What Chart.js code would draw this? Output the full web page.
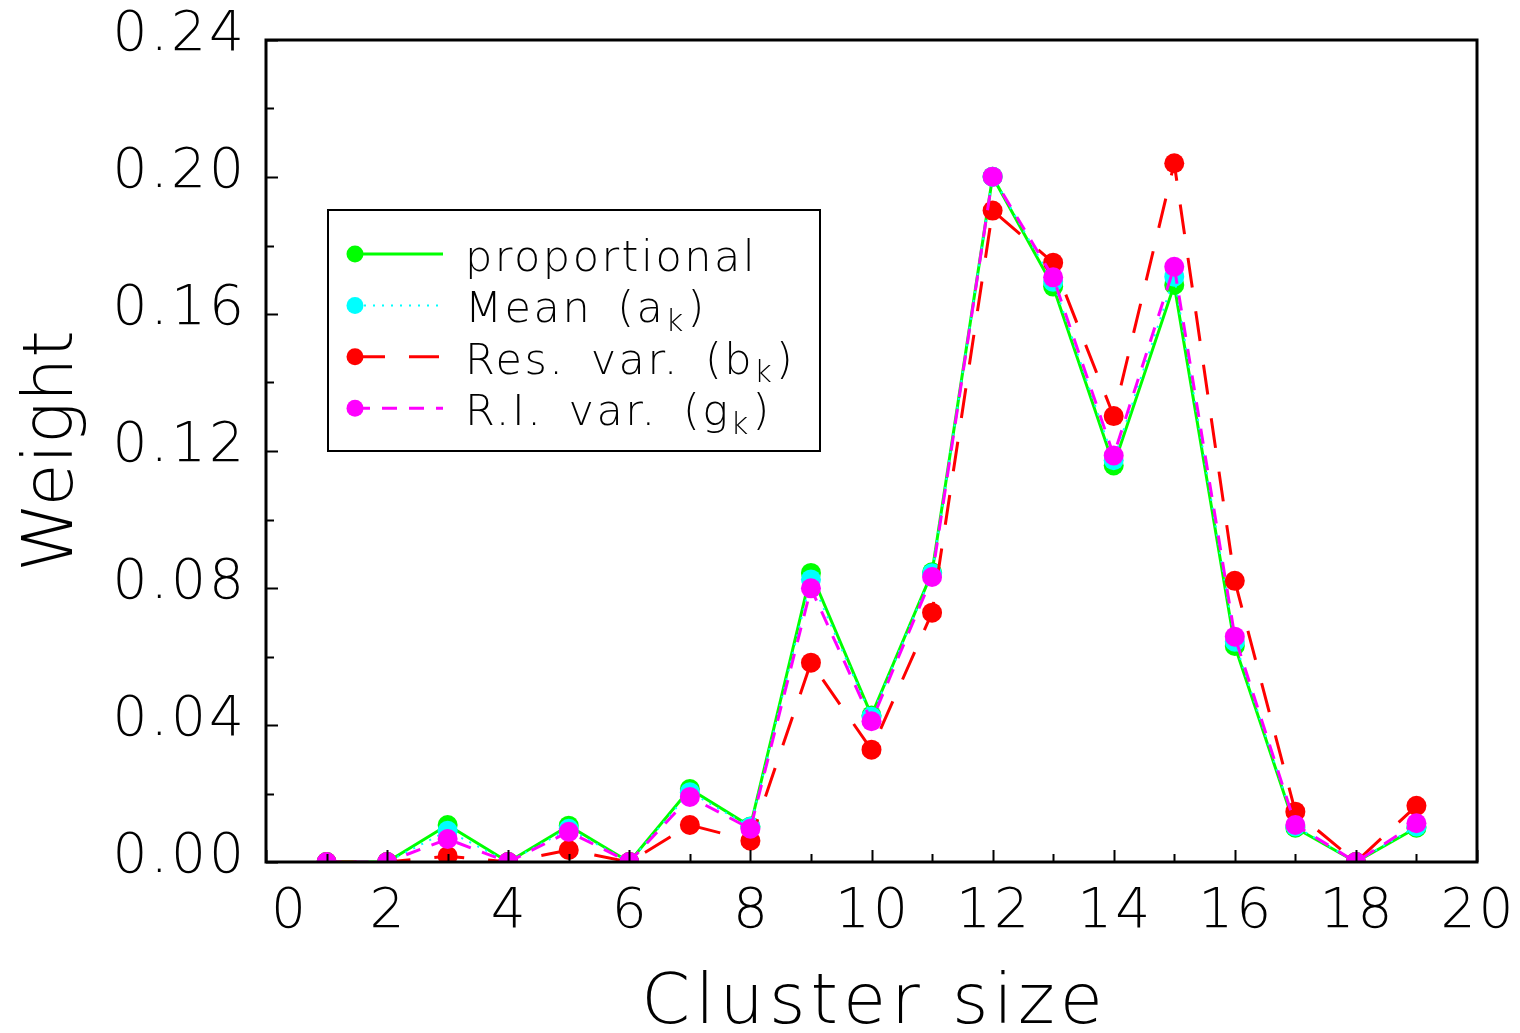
<!DOCTYPE html>
<html><head><meta charset="utf-8">
<script src="https://cdn.jsdelivr.net/npm/chart.js@4/dist/chart.umd.min.js"></script>
<style>html,body{margin:0;padding:0;background:#fff;overflow:hidden}canvas{display:block}</style>
</head><body>
<canvas id="c" width="1520" height="1033"></canvas>
<script>
// ---- data ----
const clusterSizes = [1,2,3,4,5,6,7,8,9,10,11,12,13,14,15,16,17,18,19];
const proportional = [0,0,0.0108,0,0.0106,0,0.0213,0.0104,0.0844,0.0428,0.0846,0.2001,0.1680,0.1158,0.1685,0.0631,0.0100,0,0.0100];
const meanA        = [0,0,0.0091,0,0.0097,0,0.0204,0.0103,0.0825,0.0424,0.0843,0.2001,0.1694,0.1173,0.1709,0.0643,0.0104,0,0.0104];
const resVarB      = [0,0,0.0017,0,0.0035,0,0.0108,0.0062,0.0582,0.0328,0.0728,0.1902,0.1750,0.1302,0.2040,0.0821,0.0147,0,0.0164];
const riVarG       = [0,0,0.0067,0,0.0088,0,0.0190,0.0097,0.0799,0.0411,0.0832,0.2001,0.1707,0.1187,0.1738,0.0658,0.0108,0,0.0113];
const seriesLabels = ['proportional', 'Mean (a_{k})', 'Res. var. (b_{k})', 'R.I. var. (g_{k})'];
const xTickValues = [0,2,4,6,8,10,12,14,16,18,20];
const xTickLabels = ['0','2','4','6','8','10','12','14','16','18','20'];
const yTickValues = [0,0.04,0.08,0.12,0.16,0.20,0.24];
const yTickLabels = ['0.00','0.04','0.08','0.12','0.16','0.20','0.24'];
const xTitle = 'Cluster size';
const yTitle = 'Weight';

const FONT = '"DejaVu Sans", "Lato", sans-serif';
const toXY = arr => clusterSizes.map((c, i) => ({x: c, y: arr[i]}));

const styles = [
  {color: '#00ff00', dash: [], width: 3, order: 4},
  {color: '#00ffff', dash: [2, 7], width: 2, order: 3},
  {color: '#ff0000', dash: [30, 24], width: 3, order: 2},
  {color: '#ff00ff', dash: [15, 12], width: 3, order: 1}
];
const seriesData = [proportional, meanA, resVarB, riVarG];

const datasets = seriesData.map((arr, i) => ({
  label: seriesLabels[i],
  data: toXY(arr),
  borderColor: styles[i].color,
  backgroundColor: styles[i].color,
  pointBackgroundColor: styles[i].color,
  pointBorderWidth: 0,
  pointRadius: 10,
  borderWidth: styles[i].width,
  borderDash: styles[i].dash,
  order: styles[i].order,
  tension: 0,
  clip: 0,
  fill: false
}));

function drawRich(ctx, text, x, y, size, ls, spaceExtra) {
  const parts = [];
  const re = /_\{([^}]*)\}/g;
  let last = 0, m;
  while ((m = re.exec(text)) !== null) {
    parts.push({t: text.slice(last, m.index), sub: false});
    parts.push({t: m[1], sub: true});
    last = re.lastIndex;
  }
  parts.push({t: text.slice(last), sub: false});
  let cx = x;
  ctx.textAlign = 'left';
  ctx.textBaseline = 'alphabetic';
  ctx.fillStyle = '#000';
  for (const p of parts) {
    if (!p.t) continue;
    const fs = p.sub ? size * 0.72 : size;
    ctx.font = `200 ${fs}px ${FONT}`;
    ctx.letterSpacing = (p.sub ? 1 : ls) + 'px';
    ctx.wordSpacing = (p.sub ? 0 : spaceExtra) + 'px';
    ctx.fillText(p.t, cx, p.sub ? y + size * 0.2 : y);
    cx += ctx.measureText(p.t).width + (p.sub ? 3 : 0);
  }
  ctx.wordSpacing = '0px';
}

const deco = {
  id: 'deco',
  afterDraw(chart) {
    const {ctx, chartArea: a, scales: {x, y}} = chart;
    ctx.save();
    ctx.setLineDash([]);
    ctx.strokeStyle = '#000';
    // frame
    ctx.lineWidth = 3;
    ctx.strokeRect(a.left, a.top, a.right - a.left, a.bottom - a.top);
    // inward ticks
    ctx.lineWidth = 2;
    ctx.beginPath();
    for (let v = 0; v <= 20; v++) {
      const px = Math.round(x.getPixelForValue(v)) + 0.5;
      const len = v % 2 === 0 ? 12 : 8;
      ctx.moveTo(px, a.bottom); ctx.lineTo(px, a.bottom - len);
    }
    for (let k = 0; k <= 12; k++) {
      const py = Math.round(y.getPixelForValue(k * 0.02)) + 0.5;
      const len = k % 2 === 0 ? 12 : 8;
      ctx.moveTo(a.left, py); ctx.lineTo(a.left + len, py);
    }
    ctx.stroke();

    // tick labels
    ctx.fillStyle = '#000';
    ctx.font = `200 55px ${FONT}`;
    ctx.letterSpacing = '3px';
    ctx.textBaseline = 'alphabetic';
    ctx.textAlign = 'right';
    yTickValues.forEach((v, i) => {
      ctx.fillText(yTickLabels[i], a.left - 19, y.getPixelForValue(v) + 10);
    });
    ctx.textAlign = 'left';
    xTickValues.forEach((v, i) => {
      const w = ctx.measureText(xTickLabels[i]).width - 3;
      let lx = x.getPixelForValue(v) - w / 2;
      if (lx < a.left + 5) lx = a.left + 5;
      ctx.fillText(xTickLabels[i], lx, a.bottom + 65);
    });

    // axis titles
    ctx.font = `200 70px ${FONT}`;
    ctx.letterSpacing = '5px';
    ctx.textAlign = 'center';
    ctx.fillText(xTitle, (a.left + a.right) / 2 + 3, a.bottom + 161);
    ctx.save();
    ctx.translate(72, (a.top + a.bottom) / 2);
    ctx.rotate(-Math.PI / 2);
    ctx.letterSpacing = '0px';
    ctx.fillText(yTitle, 0, 0);
    ctx.restore();

    // legend box
    ctx.lineWidth = 2;
    ctx.strokeStyle = '#000';
    ctx.strokeRect(328, 210, 492, 241);
    chart.data.datasets.forEach((ds, i) => {
      const my = 254 + i * 51.4;
      ctx.save();
      ctx.strokeStyle = ds.borderColor;
      ctx.lineWidth = ds.borderWidth;
      ctx.setLineDash(ds.borderDash);
      ctx.beginPath();
      ctx.moveTo(355, my); ctx.lineTo(443, my);
      ctx.stroke();
      ctx.setLineDash([]);
      ctx.fillStyle = ds.pointBackgroundColor;
      ctx.beginPath();
      ctx.arc(355, my, 8.5, 0, Math.PI * 2);
      ctx.fill();
      ctx.restore();
      drawRich(ctx, ds.label, 465, my + 17, 43, 2.5, 9);
    });
    ctx.restore();
  }
};

new Chart(document.getElementById('c'), {
  type: 'line',
  data: {datasets},
  options: {
    responsive: false,
    animation: false,
    devicePixelRatio: 1,
    layout: {padding: {left: 266, top: 40, right: 43, bottom: 171}},
    plugins: {legend: {display: false}, tooltip: {enabled: false}},
    scales: {
      x: {type: 'linear', min: 0, max: 20, display: false},
      y: {type: 'linear', min: 0, max: 0.24, display: false}
    }
  },
  plugins: [deco]
});
</script>
</body></html>
